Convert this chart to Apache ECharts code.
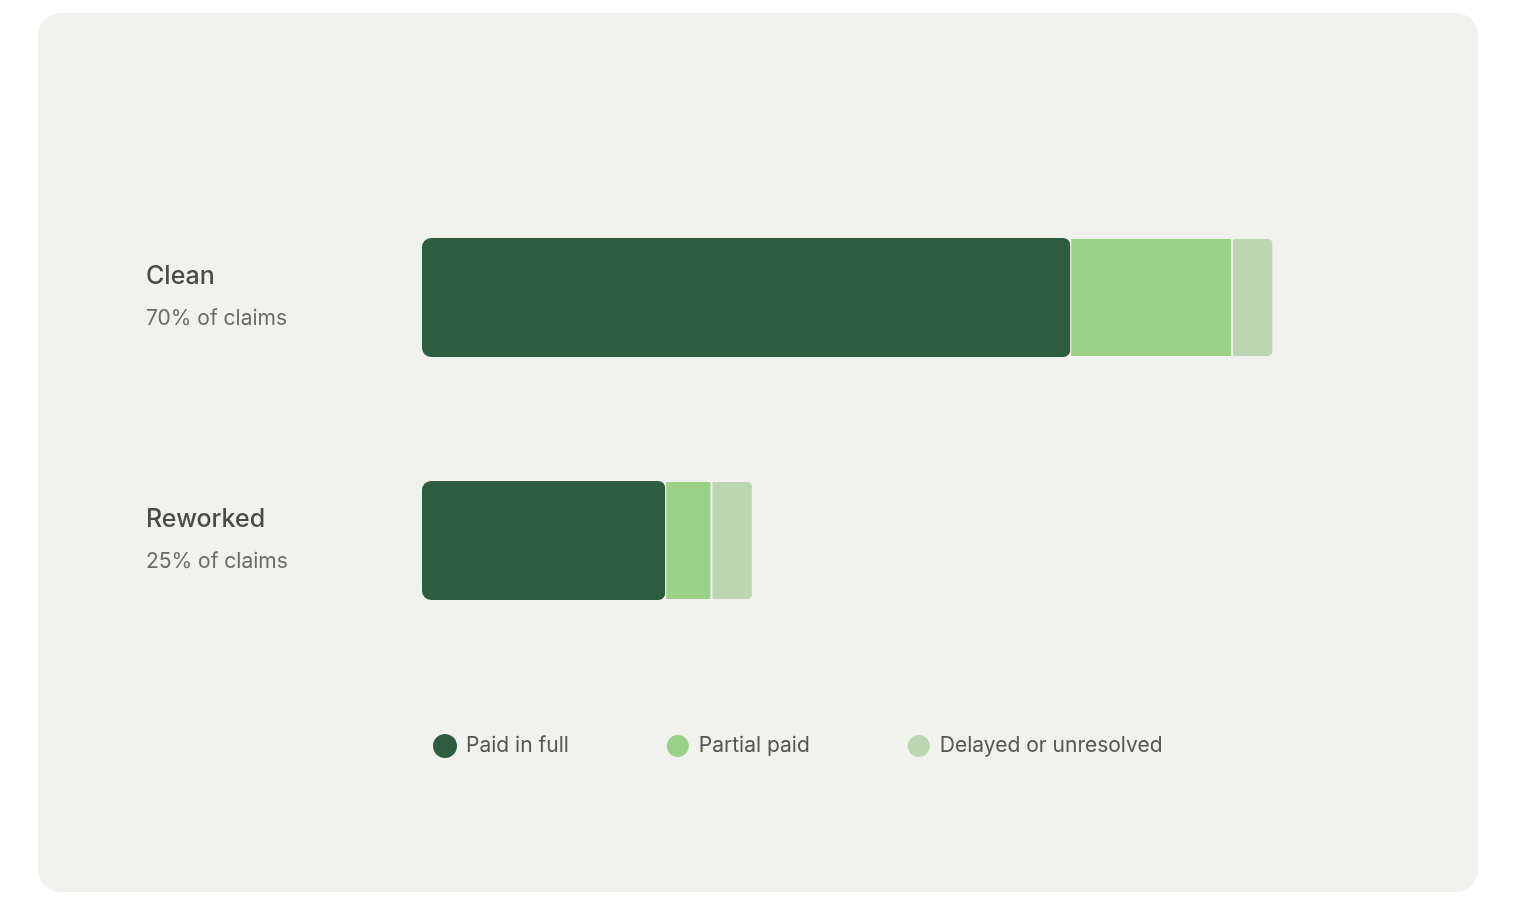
<!DOCTYPE html>
<html><head><meta charset="utf-8">
<script src="https://cdn.jsdelivr.net/npm/echarts@6/dist/echarts.min.js"></script>
<style>html,body{margin:0;background:#fff}#card{position:absolute;left:38px;top:13px;width:1440px;height:879px;background:#f1f1ed;border-radius:22px}#c{position:absolute;left:0;top:0;width:1530px;height:914px}</style>
</head><body><div id="card"></div><div id="c"></div>
<script>
const categories = ['Clean', 'Reworked'];
const shares = ['70% of claims', '25% of claims'];
const paidFull = [53.3, 20.0];
const partial = [13.3, 3.8];
const delayed = [3.4, 3.4];
const chart = echarts.init(document.getElementById('c'));
const bw = 119;
chart.setOption({
  backgroundColor: 'transparent',
  grid: {left: 422, width: 973, top: 176, height: 486},
  xAxis: {type: 'value', min: 0, max: 80, show: false},
  yAxis: {type: 'category', inverse: true, data: categories,
    axisLine: {show: false}, axisTick: {show: false},
    axisLabel: {align: 'left', margin: 276,
      formatter: (v, i) => '{a|' + v + '}\n{b|' + shares[i] + '}',
      rich: {a: {fontSize: 25, fontWeight: 500, color: '#4a4a48', fontFamily: 'Inter', lineHeight: 42},
             b: {fontSize: 21, color: '#6b6b68', fontFamily: 'Inter', lineHeight: 42}}}},
  legend: {left: 428, top: 728, itemGap: 96, icon: 'circle', itemWidth: 24, itemHeight: 24,
    textStyle: {fontSize: 21, color: '#555552', fontFamily: 'Inter', padding: [0,0,0,4]}},
  series: [
    {name: 'Paid in full', type: 'bar', stack: 's', barWidth: bw, data: paidFull,
     itemStyle: {color: '#2e5c41', borderRadius: [9,7,7,9]}},
    {name: 'Partial paid', type: 'bar', stack: 's', barWidth: bw, data: partial,
     itemStyle: {color: '#9bd087', borderColor: '#f1f1ed', borderWidth: 1}},
    {name: 'Delayed or unresolved', type: 'bar', stack: 's', barWidth: bw, data: delayed,
     itemStyle: {color: '#bcd6b4', borderColor: '#f1f1ed', borderWidth: 1, borderRadius: [0,5,5,0]}}
  ]
});
</script></body></html>
